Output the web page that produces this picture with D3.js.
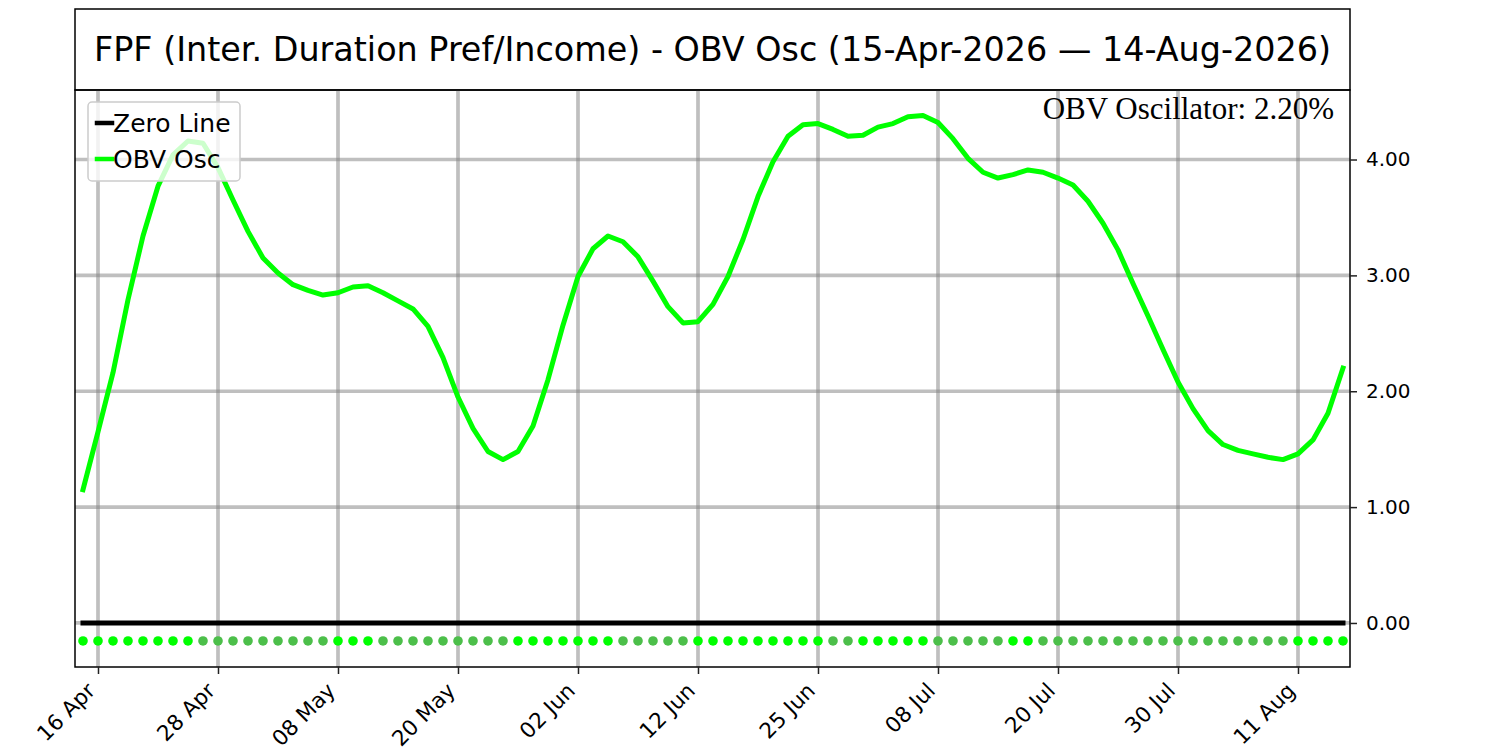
<!DOCTYPE html>
<html>
<head>
<meta charset="utf-8">
<script src="https://cdn.jsdelivr.net/npm/d3@7"></script>
<style>
  body { margin: 0; background: #fff; }
  svg { display: block; }
</style>
</head>
<body>
<svg id="chart"></svg>
<script>
const width = 1500;
const height = 750;

// trading days, 15-Apr-2026 to 14-Aug-2026
const dates = [
  "2026-04-15", "2026-04-16", "2026-04-17", "2026-04-20", "2026-04-21", "2026-04-22",
  "2026-04-23", "2026-04-24", "2026-04-27", "2026-04-28", "2026-04-29", "2026-04-30",
  "2026-05-01", "2026-05-04", "2026-05-05", "2026-05-06", "2026-05-07", "2026-05-08",
  "2026-05-11", "2026-05-12", "2026-05-13", "2026-05-14", "2026-05-15", "2026-05-18",
  "2026-05-19", "2026-05-20", "2026-05-21", "2026-05-22", "2026-05-26", "2026-05-27",
  "2026-05-28", "2026-05-29", "2026-06-01", "2026-06-02", "2026-06-03", "2026-06-04",
  "2026-06-05", "2026-06-08", "2026-06-09", "2026-06-10", "2026-06-11", "2026-06-12",
  "2026-06-15", "2026-06-16", "2026-06-17", "2026-06-18", "2026-06-22", "2026-06-23",
  "2026-06-24", "2026-06-25", "2026-06-26", "2026-06-29", "2026-06-30", "2026-07-01",
  "2026-07-02", "2026-07-06", "2026-07-07", "2026-07-08", "2026-07-09", "2026-07-10",
  "2026-07-13", "2026-07-14", "2026-07-15", "2026-07-16", "2026-07-17", "2026-07-20",
  "2026-07-21", "2026-07-22", "2026-07-23", "2026-07-24", "2026-07-27", "2026-07-28",
  "2026-07-29", "2026-07-30", "2026-07-31", "2026-08-03", "2026-08-04", "2026-08-05",
  "2026-08-06", "2026-08-07", "2026-08-10", "2026-08-11", "2026-08-12", "2026-08-13",
  "2026-08-14"
];

// OBV oscillator (%)
const obvOsc = [
  1.15, 1.65, 2.16, 2.79, 3.34, 3.77, 4.04, 4.16, 4.14, 3.93,
  3.65, 3.38, 3.15, 3.02, 2.92, 2.87, 2.83, 2.85, 2.90, 2.91,
  2.85, 2.78, 2.71, 2.56, 2.29, 1.95, 1.68, 1.48, 1.41, 1.48,
  1.70, 2.10, 2.57, 2.99, 3.23, 3.34, 3.29, 3.16, 2.95, 2.73,
  2.59, 2.60, 2.75, 2.99, 3.31, 3.68, 3.98, 4.20, 4.30, 4.31,
  4.26, 4.20, 4.21, 4.28, 4.31, 4.37, 4.38, 4.32, 4.18, 4.01,
  3.89, 3.84, 3.87, 3.91, 3.89, 3.84, 3.78, 3.64, 3.45, 3.22,
  2.93, 2.65, 2.36, 2.08, 1.85, 1.66, 1.54, 1.49, 1.46, 1.43,
  1.41, 1.46, 1.58, 1.81, 2.20
];

const yTicks = [0, 1, 2, 3, 4];
const xTickIdx = [1, 9, 17, 25, 33, 41, 49, 57, 65, 73, 81];

const svg = d3.select("#chart").attr("width", width).attr("height", height);

const plotL = 75, plotR = 1350, plotT = 90, plotB = 667;

const x = d3.scaleLinear().domain([-0.533, 84.467]).range([plotL, plotR]);
const y = d3.scaleLinear().domain([-0.38, 4.60]).range([plotB, plotT]);

const parse = d3.timeParse("%Y-%m-%d");
const fmt = d3.timeFormat("%d %b");

// title box
svg.append("rect")
  .attr("x", plotL).attr("y", 9)
  .attr("width", plotR - plotL).attr("height", plotT - 9)
  .attr("fill", "none").attr("stroke", "#000").attr("stroke-width", 1.5);

svg.append("text")
  .text("FPF (Inter. Duration Pref/Income) - OBV Osc (15-Apr-2026 \u2014 14-Aug-2026)")
  .attr("x", (plotL + plotR) / 2).attr("y", 61)
  .attr("text-anchor", "middle")
  .attr("font-family", "DejaVu Sans").attr("font-size", 33.4)
  .attr("fill", "#000");

// grid
const grid = svg.append("g").attr("stroke", "#808080").attr("stroke-opacity", 0.5).attr("stroke-width", 3.7);
grid.selectAll(".gx").data(xTickIdx).join("line")
  .attr("x1", d => x(d)).attr("x2", d => x(d))
  .attr("y1", plotT).attr("y2", plotB);
grid.selectAll(".gy").data(yTicks).join("line")
  .attr("x1", plotL).attr("x2", plotR)
  .attr("y1", d => y(d)).attr("y2", d => y(d));

// zero line
svg.append("line")
  .attr("x1", x(0)).attr("x2", x(obvOsc.length - 1))
  .attr("y1", y(0)).attr("y2", y(0))
  .attr("stroke", "#000").attr("stroke-width", 5)
  .attr("stroke-linecap", "square");

// OBV line
const line = d3.line().x((d, i) => x(i)).y(d => y(d));
svg.append("path")
  .datum(obvOsc)
  .attr("d", line)
  .attr("fill", "none")
  .attr("stroke", "#00ff00")
  .attr("stroke-width", 5)
  .attr("stroke-linejoin", "round")
  .attr("stroke-linecap", "square");

// direction dots below zero line
svg.append("g").selectAll("circle").data(obvOsc).join("circle")
  .attr("cx", (d, i) => x(i))
  .attr("cy", y(-0.155))
  .attr("r", 4.8)
  .attr("fill", (d, i) => (i === 0 || d >= obvOsc[i - 1]) ? "#00ff00" : "#4cbf4a");

// frame
svg.append("rect")
  .attr("x", plotL).attr("y", plotT)
  .attr("width", plotR - plotL).attr("height", plotB - plotT)
  .attr("fill", "none").attr("stroke", "#000").attr("stroke-width", 1.5);

// y axis on the right
const yAxis = svg.append("g")
  .attr("transform", `translate(${plotR},0)`)
  .call(d3.axisRight(y).tickValues(yTicks).tickFormat(d3.format(".2f")).tickSize(7).tickPadding(9));
yAxis.select(".domain").remove();
yAxis.selectAll("line").attr("stroke", "#222").attr("stroke-width", 1.5);
yAxis.selectAll("text").attr("font-family", "DejaVu Sans").attr("font-size", 20).attr("fill", "#000");

// x axis
const xAxis = svg.append("g")
  .attr("transform", `translate(0,${plotB})`)
  .call(d3.axisBottom(x).tickValues(xTickIdx).tickFormat(i => fmt(parse(dates[i]))).tickSize(7));
xAxis.select(".domain").remove();
xAxis.selectAll("line").attr("stroke", "#222").attr("stroke-width", 1.5);
xAxis.selectAll("text")
  .attr("font-family", "DejaVu Sans").attr("font-size", 21.5).attr("fill", "#000")
  .attr("text-anchor", "end")
  .attr("dy", null)
  .attr("y", null)
  .attr("transform", "translate(-2,25) rotate(-45)");

// legend
const lg = svg.append("g");
lg.append("rect")
  .attr("x", 88).attr("y", 102).attr("width", 152).attr("height", 79).attr("rx", 4)
  .attr("fill", "#fff").attr("fill-opacity", 0.8)
  .attr("stroke", "#cccccc").attr("stroke-width", 1.5);
const legendItems = [
  { label: "Zero Line", color: "#000" },
  { label: "OBV Osc", color: "#00ff00" }
];
legendItems.forEach((it, k) => {
  const cy = 123 + k * 36;
  lg.append("line")
    .attr("x1", 97).attr("x2", 112).attr("y1", cy).attr("y2", cy)
    .attr("stroke", it.color).attr("stroke-width", 4.5).attr("stroke-linecap", "square");
  lg.append("text").text(it.label)
    .attr("x", 113).attr("y", cy + 9)
    .attr("font-family", "DejaVu Sans").attr("font-size", 25).attr("fill", "#000");
});

// current value label
svg.append("text")
  .text(`OBV Oscillator: ${obvOsc[obvOsc.length - 1].toFixed(2)}%`)
  .attr("x", 1334).attr("y", 119)
  .attr("text-anchor", "end")
  .attr("font-family", "Liberation Serif").attr("font-size", 31)
  .attr("fill", "#000");
</script>
</body>
</html>
